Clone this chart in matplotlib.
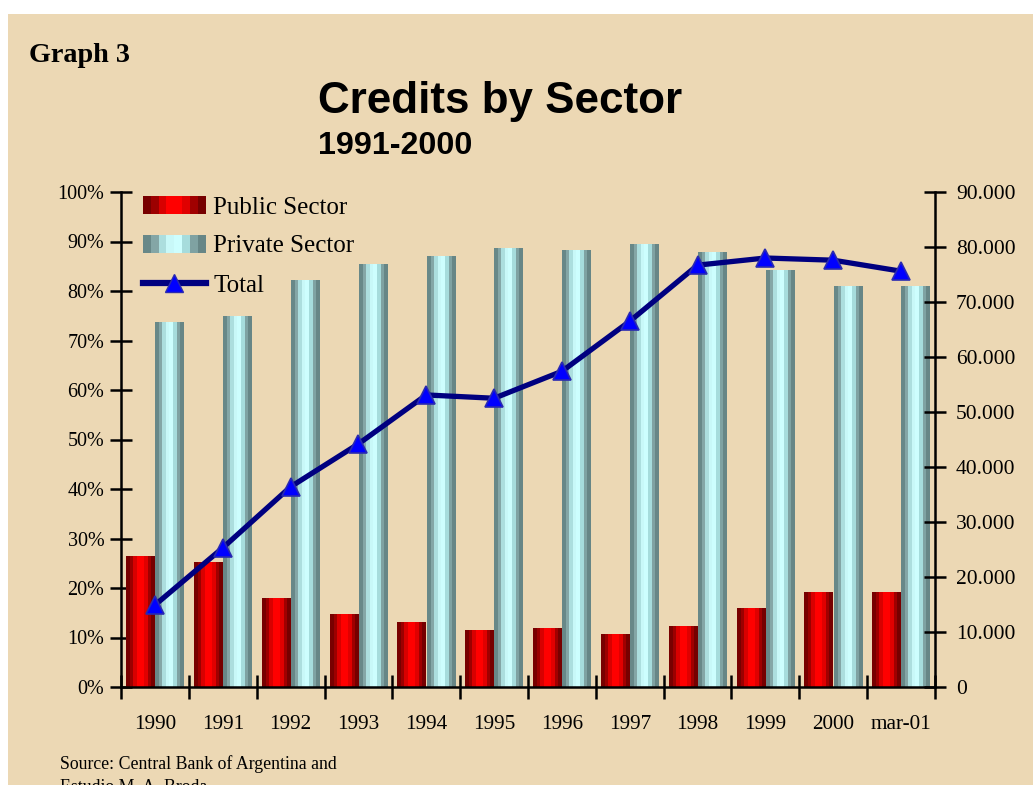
import matplotlib
matplotlib.use("Agg")
import matplotlib.pyplot as plt
import numpy as np
from matplotlib.patches import Rectangle
from matplotlib.lines import Line2D
from matplotlib.legend_handler import HandlerBase
from matplotlib.ticker import FuncFormatter, FixedLocator
from matplotlib.colors import to_rgb

# ---------------- data ----------------
categories = ["1990", "1991", "1992", "1993", "1994", "1995", "1996", "1997",
              "1998", "1999", "2000", "mar-01"]
public_pct = [26.5, 25.3, 18.0, 14.7, 13.1, 11.5, 11.9, 10.7, 12.4, 16.0, 19.2, 19.2]
private_pct = [73.7, 75.0, 82.2, 85.5, 87.1, 88.7, 88.3, 89.5, 87.9, 84.2, 81.0, 81.0]
total = [14900, 25300, 36400, 44200, 53100, 52500, 57400, 66500, 76700, 78000, 77600, 75600]
left_ticks = [0, 10, 20, 30, 40, 50, 60, 70, 80, 90, 100]
right_ticks = [0, 10000, 20000, 30000, 40000, 50000, 60000, 70000, 80000, 90000]

# ---------------- style ----------------
W, H = 1033, 785
BG = "#ecd8b4"
RED_STRIPES = ["#780000", "#9c0000", "#d80000", "#ff0000", "#ff0000", "#e00000", "#a00000", "#760000"]
CYAN_STRIPES = ["#688888", "#84a6a6", "#acdede", "#c8f8f8", "#cdfefe", "#a6dcdc", "#7fa2a2", "#678686"]
SERIF = ["Liberation Serif", "DejaVu Serif"]
SANS = ["Liberation Sans", "DejaVu Sans"]

fig = plt.figure(figsize=(W / 100, H / 100), dpi=100, facecolor="white")
fig.patches.append(Rectangle((8 / W, 0), 1 - 8 / W, 1 - 14 / H, transform=fig.transFigure,
                             facecolor=BG, edgecolor="none", zorder=-10))

ax = fig.add_axes([121 / W, 1 - 687 / H, (935 - 121) / W, (687 - 192) / H])
ax.set_facecolor("none")
ax2 = ax.twinx()
ax2.set_facecolor("none")

x = np.arange(len(categories))
bw = 0.42
off = 0.215


def stripe_bars(bars, colors):
    arr = np.array([[to_rgb(c) for c in colors]])
    for b in bars:
        x0, y0, w, h = b.get_x(), b.get_y(), b.get_width(), b.get_height()
        im = ax.imshow(arr, extent=(x0, x0 + w, y0, y0 + h), aspect="auto",
                       interpolation="nearest", zorder=2.5)
        im.set_clip_path(b)


b1 = ax.bar(x - off, public_pct, width=bw, color=RED_STRIPES[3], edgecolor="none", zorder=2)
b2 = ax.bar(x + off, private_pct, width=bw, color=CYAN_STRIPES[3], edgecolor="none", zorder=2)
stripe_bars(b1, RED_STRIPES)
stripe_bars(b2, CYAN_STRIPES)

ax.set_xlim(-0.5, len(categories) - 0.5)
ax.set_ylim(0, 100)
ax.set_yticks(left_ticks)
ax.set_yticklabels([f"{t}%" for t in left_ticks], fontfamily=SERIF, fontsize=14.5)

ax.xaxis.set_major_locator(FixedLocator(np.arange(-0.5, len(categories), 1.0)))
ax.xaxis.set_minor_locator(FixedLocator(x))
ax.set_xticklabels([], minor=False)
ax.set_xticklabels(categories, minor=True, fontfamily=SERIF, fontsize=15.3)
ax.tick_params(axis="x", which="major", direction="inout", length=17, width=1.8, color="black")
ax.tick_params(axis="x", which="minor", length=0, pad=20.5)
ax.tick_params(axis="y", direction="inout", length=16, width=1.8, pad=4)

ax2.plot(x, total, color="#000080", lw=3.8, zorder=5, solid_joinstyle="round")
ax2.plot(x, total, ls="none", marker="^", ms=13, mfc="#0000ff", mec="#2a2ab0", mew=1.2, zorder=6)
ax2.set_ylim(0, 90000)
ax2.set_yticks(right_ticks)
ax2.yaxis.set_major_formatter(FuncFormatter(lambda v, p: f"{int(round(v)):,}".replace(",", ".")))
for lab in ax2.get_yticklabels():
    lab.set_fontfamily(SERIF)
    lab.set_fontsize(15.5)
ax2.tick_params(axis="y", direction="inout", length=16, width=1.8, pad=7)

for a in (ax, ax2):
    a.spines["top"].set_visible(False)
    for s in ("left", "right", "bottom"):
        a.spines[s].set_linewidth(1.8)
ax2.spines["left"].set_visible(False)
ax2.spines["bottom"].set_visible(False)
ax.spines["right"].set_visible(False)


class StripeHandler(HandlerBase):
    def __init__(self, colors):
        super().__init__()
        self.colors = colors

    def create_artists(self, legend, orig_handle, xdescent, ydescent, width, height, fontsize, trans):
        n = len(self.colors)
        w = width / n
        return [Rectangle((-xdescent + i * w, -ydescent), w, height, facecolor=c,
                          edgecolor="none", transform=trans) for i, c in enumerate(self.colors)]


h_pub = Rectangle((0, 0), 1, 1)
h_priv = Rectangle((0, 0), 1, 1)
h_tot = Line2D([], [], color="#000080", lw=4.5, marker="^", ms=13, mfc="#0000ff", mec="#2a2ab0")
leg = fig.legend([h_pub, h_priv, h_tot], ["Public Sector", "Private Sector", "Total"],
                 handler_map={h_pub: StripeHandler(RED_STRIPES), h_priv: StripeHandler(CYAN_STRIPES)},
                 loc="upper left", bbox_to_anchor=(143 / W, 1 - 196 / H), bbox_transform=fig.transFigure,
                 frameon=False, borderpad=0, borderaxespad=0, handlelength=2.5, handleheight=0.7,
                 handletextpad=0.3, labelspacing=0.66, prop={"family": SERIF, "size": 18})
leg.set_zorder(10)

fig.text(29 / W, 1 - 56 / H, "Graph 3", fontfamily=SERIF, fontweight="bold", fontsize=20.3,
         ha="left", va="center")
fig.text(318 / W, 1 - 102 / H, "Credits by Sector", fontfamily=SANS, fontweight="bold", fontsize=31.7,
         ha="left", va="center")
fig.text(318 / W, 1 - 146 / H, "1991-2000", fontfamily=SANS, fontweight="bold", fontsize=23.2,
         ha="left", va="center")
fig.text(60 / W, 1 - 764 / H, "Source: Central Bank of Argentina and", fontfamily=SERIF, fontsize=12.8,
         ha="left", va="center")
fig.text(60 / W, 1 - 787 / H, "Estudio M. A. Broda", fontfamily=SERIF, fontsize=12.8,
         ha="left", va="center")

fig.savefig("out.png", dpi=100, facecolor="white")
